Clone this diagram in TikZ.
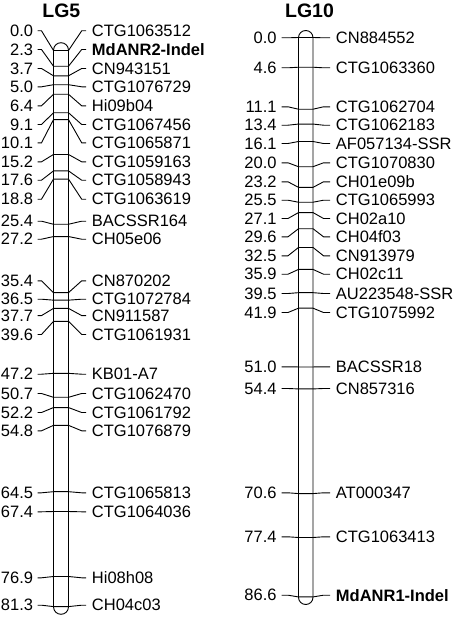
\documentclass[tikz,border=0pt]{standalone}
\usepackage{fontspec}
\setmainfont{Liberation Sans}
\begin{document}
\begin{tikzpicture}
[x=1pt,y=-1pt,line width=0.9pt,
 cmlab/.style={anchor=east,inner sep=0pt,font=\fontsize{16.5}{18}\selectfont},
 mklab/.style={anchor=west,inner sep=0pt,font=\fontsize{16.5}{18}\selectfont},
 lgtitle/.style={inner sep=0pt,font=\bfseries\fontsize{19.5}{22}\selectfont}]
 \useasboundingbox (0,0) rectangle (455,618);
 \node[lgtitle] (LG5) at (61.3,10.3) {LG5};
 \node[lgtitle] (LG10) at (309.5,10.3) {LG10};
 \draw[rounded corners=7.5pt] (53.5,42.7) rectangle (68.5,614.3);
 \draw[rounded corners=7.25pt] (298.5,30.5) rectangle (313,604.5);

 % LG5
 \foreach \cmv/\ly/\mk [count=\i] in {0.0/30.8/CTG1063512, 2.3/49.5/{\bfseries MdANR2-Indel},
   3.7/68.5/CN943151, 5.0/86.8/CTG1076729, 6.4/105.8/Hi09b04, 9.1/124.5/CTG1067456,
   10.1/142.8/CTG1065871, 15.2/161.8/CTG1059163, 17.6/180.2/CTG1058943, 18.8/199.2/CTG1063619,
   25.4/221.2/BACSSR164, 27.2/239.2/CH05e06, 35.4/280.8/CN870202, 36.5/299.2/CTG1072784,
   37.7/315.6/CN911587, 39.6/334.5/CTG1061931, 47.2/374.2/KB01-A7, 50.7/393.5/CTG1062470,
   52.2/412.5/CTG1061792, 54.8/430.8/CTG1076879, 64.5/492.8/CTG1065813, 67.4/511.8/CTG1064036,
   76.9/577.8/Hi08h08, 81.3/605.2/CH04c03}{
   \pgfmathsetmacro{\yt}{50.5+6.84*\cmv}
   \node[cmlab] (a\i) at (33.5,\ly) {\cmv};
   \node[mklab] (b\i) at (91.5,\ly) {\mk};
   \draw ([xshift=4pt]a\i.east) -- ([xshift=8pt]a\i.east) -- (53.5,\yt) -- (68.5,\yt)
     -- ([xshift=-9.8pt]b\i.west) -- ([xshift=-5.5pt]b\i.west);
 }

 % LG10
 \foreach \cmv/\ly/\mk [count=\i] in {0.0/37.8/CN884552, 4.6/67.8/CTG1063360,
   11.1/106.8/CTG1062704, 13.4/125.2/CTG1062183, 16.1/143.5/AF057134-SSR, 20.0/162.8/CTG1070830,
   23.2/181.8/CH01e09b, 25.5/200.2/CTG1065993, 27.1/218.5/CH02a10, 29.6/236.8/CH04f03,
   32.5/255.8/CN913979, 35.9/274.2/CH02c11, 39.5/293.5/AU223548-SSR, 41.9/312.5/CTG1075992,
   51.0/366.8/BACSSR18, 54.4/388.5/CN857316, 70.6/492.8/AT000347, 77.4/536.8/CTG1063413,
   86.6/595.2/{\bfseries MdANR1-Indel}}{
   \pgfmathsetmacro{\yt}{37.5+6.46*\cmv}
   \node[cmlab] (c\i) at (277,\ly) {\cmv};
   \node[mklab] (d\i) at (335.5,\ly) {\mk};
   \draw ([xshift=4.5pt]c\i.east) -- ([xshift=11pt]c\i.east) -- (298.5,\yt) -- (313,\yt)
     -- ([xshift=-12pt]d\i.west) -- ([xshift=-5.5pt]d\i.west);
 }
\end{tikzpicture}
\end{document}
